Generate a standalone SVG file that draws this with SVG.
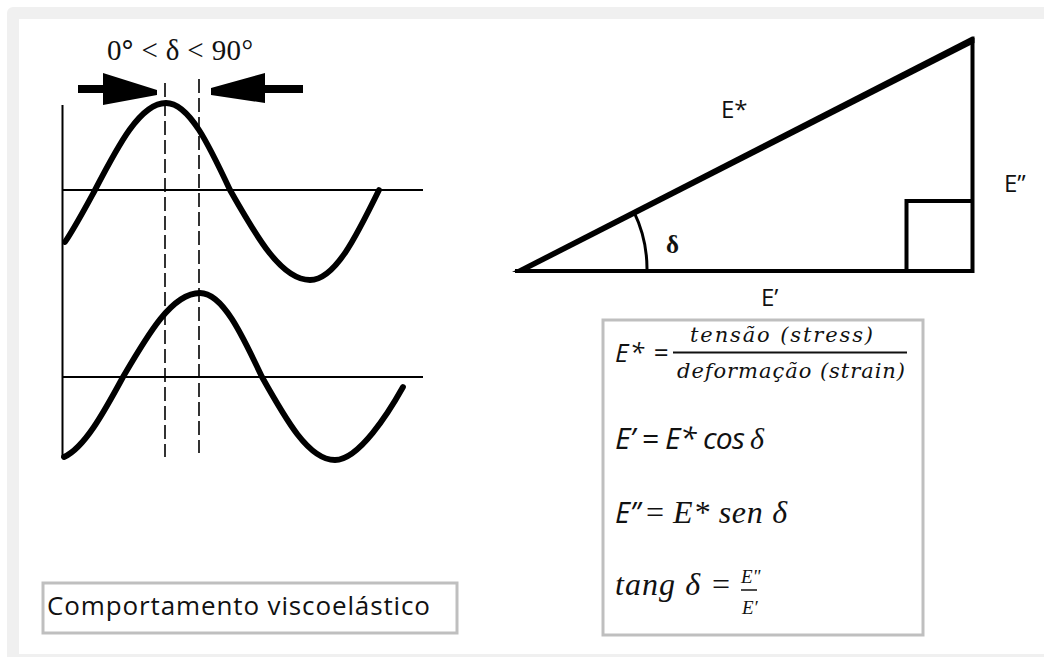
<svg xmlns="http://www.w3.org/2000/svg" width="1044" height="657" viewBox="0 0 1044 657">
<style>
.s{font-family:"Open Sans","Liberation Sans",sans-serif;fill:#111}
.si{font-family:"Open Sans","Liberation Sans",sans-serif;font-style:italic;fill:#111}
.sr{font-family:"Liberation Serif","Times New Roman",serif;fill:#111}
.mi{font-family:"Liberation Serif","Times New Roman",serif;font-style:italic;fill:#111}
.cm{font-family:"DejaVu Serif","Liberation Serif",serif;font-style:italic;fill:#111}
.wave{fill:none;stroke:#000;stroke-width:5.8;stroke-linecap:round;stroke-linejoin:round}
.ax{stroke:#000;stroke-width:2;fill:none}
.dash{stroke:#000;stroke-width:1.6;stroke-dasharray:14 5;fill:none}
.tri{stroke:#000;stroke-width:4;fill:none}
.box{fill:#fff;stroke:#bfbfbf;stroke-width:3}
</style>
<rect x="7" y="7" width="1050" height="660" rx="6" fill="#f0f0f0"/>
<rect x="19" y="19" width="1030" height="635" fill="#fff"/>

<g id="waves">
  <line class="ax" x1="62.5" y1="105" x2="62.5" y2="458" stroke-width="2.6"/>
  <line class="ax" x1="62" y1="190" x2="423" y2="190"/>
  <line class="ax" x1="62" y1="377" x2="423" y2="377"/>
  <line class="dash" x1="165" y1="83" x2="165" y2="457"/>
  <line class="dash" x1="199" y1="79" x2="199" y2="453"/>
  <path class="wave" d="M65,242 C75,227.1 85,208.4 95,190 C118.2,145.4 140.3,103 166,103 C189.2,103 209.1,145.4 230,190 C256.1,236.1 281.1,280 310,280 C335,280 356.5,236.1 379,190"/>
  <path class="wave" d="M64,457 C84,448 103,414 123,377 C148.1,334 172.1,293 200,293 C222.4,293 241.8,334 262,377 C285.8,419.5 308.6,460 335,460 C359,460 389,412 403,387"/>
</g>

<g id="phase-label">
  <text class="sr" x="107" y="60" font-size="29" textLength="146">0<tspan font-weight="bold">°</tspan> &lt; δ &lt; 90°</text>
  <polygon fill="#000" points="78,85 103,85 103,73 157,90 157,95 103,105 103,93 78,93"/>
  <polygon fill="#000" points="303,85 265,85 265,73 211,88 211,95 265,103 265,93 303,93"/>
</g>

<g id="triangle">
  <line class="tri" x1="515" y1="271" x2="974" y2="271"/>
  <line class="tri" x1="972.5" y1="38" x2="972.5" y2="273"/>
  <polygon fill="#000" points="512,272 972,36.5 974.5,36.5 974.5,43 524,272"/>
  <polyline class="tri" points="906.5,271 906.5,201 972,201"/>
  <path d="M647,271 A131,131 0 0 0 633.8,211.7" fill="none" stroke="#000" stroke-width="3"/>
  <text class="sr" x="666" y="253" font-size="25" font-weight="bold">δ</text>
  <text class="s" x="721" y="118" font-size="24">E*</text>
  <text class="s" x="761" y="306" font-size="24">E’</text>
  <text class="s" x="1004" y="192" font-size="24">E”</text>
</g>

<g id="formulas">
  <rect class="box" x="603" y="320" width="320" height="315"/>
  <text class="si" x="615" y="362" font-size="26" textLength="53">E* =</text>
  <text class="cm" x="690" y="342" font-size="21" textLength="183">tensão (stress)</text>
  <line x1="673" y1="352.5" x2="907" y2="352.5" stroke="#111" stroke-width="1.8"/>
  <text class="cm" x="677" y="378" font-size="21" textLength="228">deformação (strain)</text>
  <text class="si" x="615" y="449" font-size="30" textLength="130">E’ = E* cos</text>
  <text class="mi" x="750" y="449" font-size="30">δ</text>
  <text class="si" x="615" y="523" font-size="29">E”</text>
  <text class="sr" x="646" y="523" font-size="32">=</text>
  <text class="mi" x="673" y="523" font-size="32" textLength="114">E* sen δ</text>
  <text class="mi" x="615" y="595" font-size="32" textLength="85">tang δ</text>
  <text class="sr" x="712" y="595" font-size="32">=</text>
  <text class="mi" x="741" y="583" font-size="19">E"</text>
  <line x1="741" y1="590" x2="757" y2="590" stroke="#111" stroke-width="1.5"/>
  <text class="mi" x="742" y="614" font-size="19">E′</text>
</g>

<g id="caption">
  <rect class="box" x="43" y="583" width="414" height="50"/>
  <text class="s" x="47" y="615" font-size="26" textLength="383">Comportamento viscoelástico</text>
</g>
</svg>
